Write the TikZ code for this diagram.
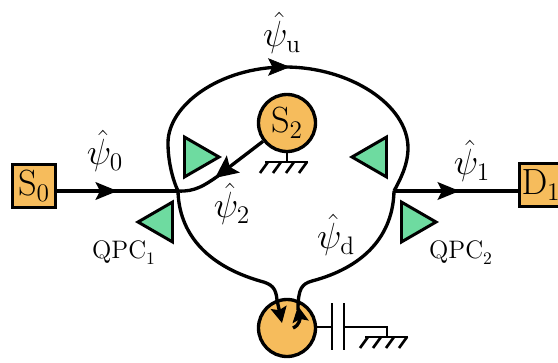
\documentclass[tikz,border=0pt]{standalone}
\usepackage{amsmath,amssymb}
\usetikzlibrary{arrows.meta,decorations.markings,shapes.geometric}

\definecolor{ohmic}{HTML}{F6BC5C}
\definecolor{gate}{HTML}{6EDBA0}

\begin{document}
\begin{tikzpicture}[
  x=0.02cm, y=-0.02cm,
  wire/.style={line width=1.9pt, line join=round},
  thin wire/.style={line width=1.5pt},
  contact/.style={rectangle, draw=black, fill=ohmic, line width=1.9pt,
                  minimum width=0.86cm, minimum height=0.86cm, inner sep=0pt,
                  font=\huge},
  dot/.style={circle, draw=black, fill=ohmic, line width=1.9pt,
              minimum size=1.14cm, inner sep=0pt, font=\huge},
  qpc/.style={regular polygon, regular polygon sides=3, draw=black, fill=gate,
              line width=1.7pt, minimum size=0.92cm, inner sep=0pt},
  lab/.style={font=\huge, inner sep=0pt},
  small/.style={font=\Large, inner sep=0pt},
  tip/.style={-{Stealth[length=13pt,width=12pt,inset=2.5pt]}},
  thintip/.style={-{Stealth[length=9pt,width=9pt,inset=1.5pt]}},
  midarr/.style={postaction={decorate}, decoration={markings,
                 mark=at position #1 with {\arrow{Stealth[length=12.5pt,width=10pt,inset=2.5pt]}}}},
  gnd/.pic={
    \draw[thin wire] (-22,0) -- (21,0);
    \foreach \i in {-19,-6,7,20} {
      \draw[thin wire] (\i,0) -- ++(-8,11);
    }
  },
]
\useasboundingbox (0,0) rectangle (558,362);

% Contacts and dots
\node[contact] (S0) at (34,186) {$\mathrm{S}_0$};
\node[contact] (D1) at (541,185) {$\mathrm{D}_1$};
\node[dot] (S2) at (287,123) {$\mathrm{S}_2$};
\node[dot] (dotB) at (287,328) {};

% QPC gates
\node[qpc, shape border rotate=-90] (gA) at (196,157) {};
\node[qpc, shape border rotate=90] (gB) at (161,222) {};
\node[qpc, shape border rotate=90] (gC) at (375,157) {};
\node[qpc, shape border rotate=-90] (gD) at (413,222) {};

\coordinate (QL) at (178,191);
\coordinate (QR) at (394,191);
\coordinate (top) at (285,67);
\coordinate (capA) at (332,327);
\coordinate (capB) at (344,327);
\coordinate (gndA) at (287,162);
\coordinate (gndB) at (387,337);

% Leads
\draw[wire, midarr=0.5] (S0.east |- QL) -- (QL);
\draw[wire, midarr=0.53] (QR) -- (D1.west |- QR);

% Upper arm
\draw[wire] (QL) .. controls (172,178) and (168,160) .. (168,143)
  .. controls (168,105) and (220,67) .. (top)
  .. controls (350,67) and (408,105) .. (408,148)
  .. controls (408,165) and (400,180) .. (QR);
\path[midarr=0.5] (268,67) -- (312,67);

% Lower arm
\draw[wire, thintip] (QL) .. controls (179,232) and (205,265) .. (260,281)
  .. controls (272,284) and (276,288) .. (277,300) -- (282,323);
\draw[wire] (QR) .. controls (393,235) and (365,267) .. (312,281)
  .. controls (302,284) and (298,288) .. (298,310);
\draw[wire, thintip] (293,328) .. controls (300,325) and (300,318) .. (298,306);

% Injection from S2
\draw[wire, tip] (S2) -- (215,178);
\draw[wire] (QL) .. controls (195,192) and (205,185) .. (218,176);

% Grounds and capacitor
\draw[thin wire] (S2.south) -- (gndA);
\pic at (gndA) {gnd};
\draw[thin wire] (dotB.east |- capA) -- (capA);
\draw[thin wire] (332,303) -- (332,350);
\draw[thin wire] (344,303) -- (344,350);
\draw[thin wire] (capB) -| (gndB);
\pic at (gndB) {gnd};

% Labels
\node[lab] (psi0) at (105,151) {$\hat{\psi}_0$};
\node[lab] (psi1) at (472,161) {$\hat{\psi}_1$};
\node[lab] (psi2) at (232,204) {$\hat{\psi}_2$};
\node[lab] (psiu) at (282,33) {$\hat{\psi}_{\mathrm{u}}$};
\node[lab] (psid) at (336,235) {$\hat{\psi}_{\mathrm{d}}$};
\node[small] (qpcA) at (124,253) {$\mathrm{QPC}_1$};
\node[small] (qpcB) at (461,253) {$\mathrm{QPC}_2$};

\end{tikzpicture}
\end{document}
